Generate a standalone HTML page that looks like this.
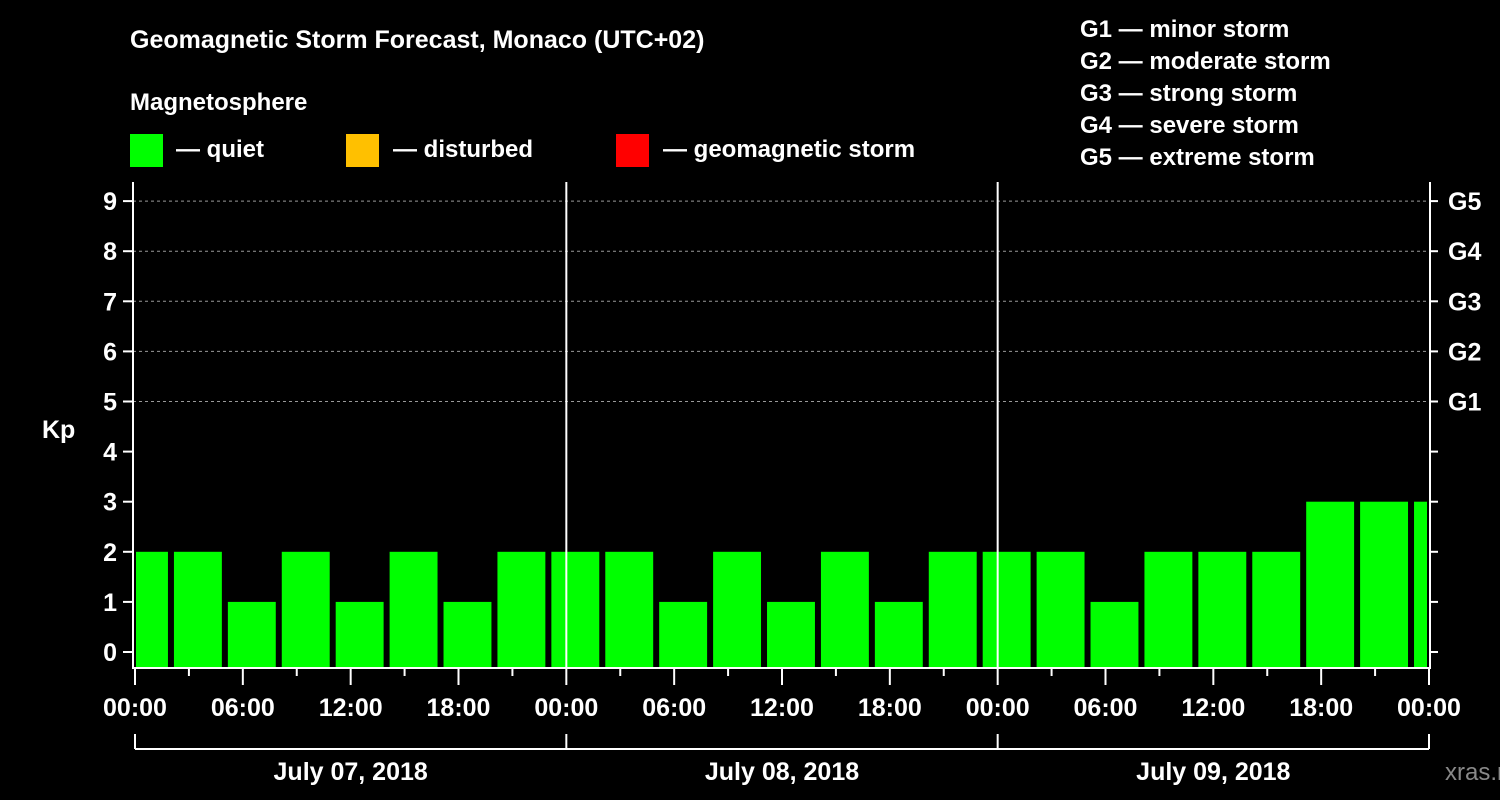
<!DOCTYPE html>
<html><head><meta charset="utf-8"><style>
body{margin:0;background:#000;}
svg{display:block;font-family:"Liberation Sans",sans-serif;font-weight:bold;}
</style></head><body>
<svg id="chart" width="1500" height="800" viewBox="0 0 1500 800">
<rect width="1500" height="800" fill="#000"/>
<text x="130" y="48" fill="#fff" font-size="25">Geomagnetic Storm Forecast, Monaco (UTC+02)</text>
<text x="130" y="110" fill="#fff" font-size="24">Magnetosphere</text>
<g><rect x="130" y="134" width="33" height="33" fill="#00ff00"/><text x="176" y="157" fill="#fff" font-size="24">— quiet</text></g>
<g><rect x="346" y="134" width="33" height="33" fill="#ffc000"/><text x="393" y="157" fill="#fff" font-size="24">— disturbed</text></g>
<g><rect x="616" y="134" width="33" height="33" fill="#ff0000"/><text x="663" y="157" fill="#fff" font-size="24">— geomagnetic storm</text></g>
<g fill="#fff" font-size="24">
<text x="1080" y="37">G1 — minor storm</text>
<text x="1080" y="69">G2 — moderate storm</text>
<text x="1080" y="101">G3 — strong storm</text>
<text x="1080" y="133">G4 — severe storm</text>
<text x="1080" y="165">G5 — extreme storm</text>
</g>
<text x="42" y="438" fill="#fff" font-size="25">Kp</text>
<g id="grid"></g><g id="bars"></g><g id="axes"></g>
<text x="1445" y="780" fill="#888" font-size="24" font-weight="normal">xras.ru</text>
</svg>
<script>
const values=[2,2,1,2,1,2,1,2,2,2,1,2,1,2,1,2,2,2,1,2,2,2,3,3,3];
const yTicks=[0,1,2,3,4,5,6,7,8,9];
const gLabels=["G1","G2","G3","G4","G5"];
const hourLabels=["00:00","06:00","12:00","18:00","00:00","06:00","12:00","18:00","00:00","06:00","12:00","18:00","00:00"];
const dayLabels=["July 07, 2018","July 08, 2018","July 09, 2018"];
const ns="http://www.w3.org/2000/svg";
const X0=135,X1=1429,H=72,L=133,R=1430,T=182,B=668;
const x=h=>X0+(X1-X0)*h/H;
const y=v=>652-v*50.1;
function mk(p,t,a){const e=document.createElementNS(ns,t);for(const k in a)e.setAttribute(k,a[k]);document.getElementById(p).appendChild(e);return e;}
for(let v=5;v<=9;v++){
const l=mk('grid','line',{x1:L,x2:R,y1:y(v),y2:y(v),stroke:'#999','stroke-dasharray':'3,3','stroke-width':1});


}
values.forEach((v,i)=>{
let s=x(3*i-1)+3,e=x(3*i+2)-3;
s=Math.max(s,x(0)+1);e=Math.min(e,x(H)-2);
const c=v>=5?'#ff0000':(v>=4?'#ffc000':'#00ff00');
const r=mk('bars','rect',{x:s,y:y(v),width:e-s,height:B-y(v),fill:c});


});
// axes
mk('axes','polyline',{points:`${L},${T} ${L},${B} ${R},${B} ${R},${T}`,fill:'none',stroke:'#fff','stroke-width':2});
[1,2].forEach(d=>{const l=mk('axes','line',{x1:x(24*d),x2:x(24*d),y1:T,y2:B,stroke:'#fff','stroke-width':2});

});
yTicks.forEach(v=>{
mk('axes','line',{x1:L-10,x2:L,y1:y(v),y2:y(v),stroke:'#fff','stroke-width':2});
mk('axes','line',{x1:R,x2:R+8,y1:y(v),y2:y(v),stroke:'#fff','stroke-width':2});
const t=mk('axes','text',{x:L-16,y:y(v)+9,fill:'#fff','font-size':25,'text-anchor':'end'});t.textContent=v;


});
gLabels.forEach((g,i)=>{const t=mk('axes','text',{x:R+18,y:y(5+i)+9,fill:'#fff','font-size':25});t.textContent=g;

});
for(let h=0;h<=H;h+=3){const maj=h%6==0;mk('axes','line',{x1:x(h),x2:x(h),y1:B,y2:B+(maj?17:8),stroke:'#fff','stroke-width':2});}
hourLabels.forEach((s,i)=>{const t=mk('axes','text',{x:x(6*i),y:716,fill:'#fff','font-size':25,'text-anchor':'middle'});t.textContent=s;

});
mk('axes','line',{x1:x(0),x2:x(H),y1:749,y2:749,stroke:'#fff','stroke-width':2});
for(let d=0;d<=3;d++)mk('axes','line',{x1:x(24*d),x2:x(24*d),y1:734,y2:749,stroke:'#fff','stroke-width':2});
dayLabels.forEach((s,i)=>{const t=mk('axes','text',{x:x(24*i+12),y:780,fill:'#fff','font-size':25,'text-anchor':'middle'});t.textContent=s;

});
</script>
</body></html>
